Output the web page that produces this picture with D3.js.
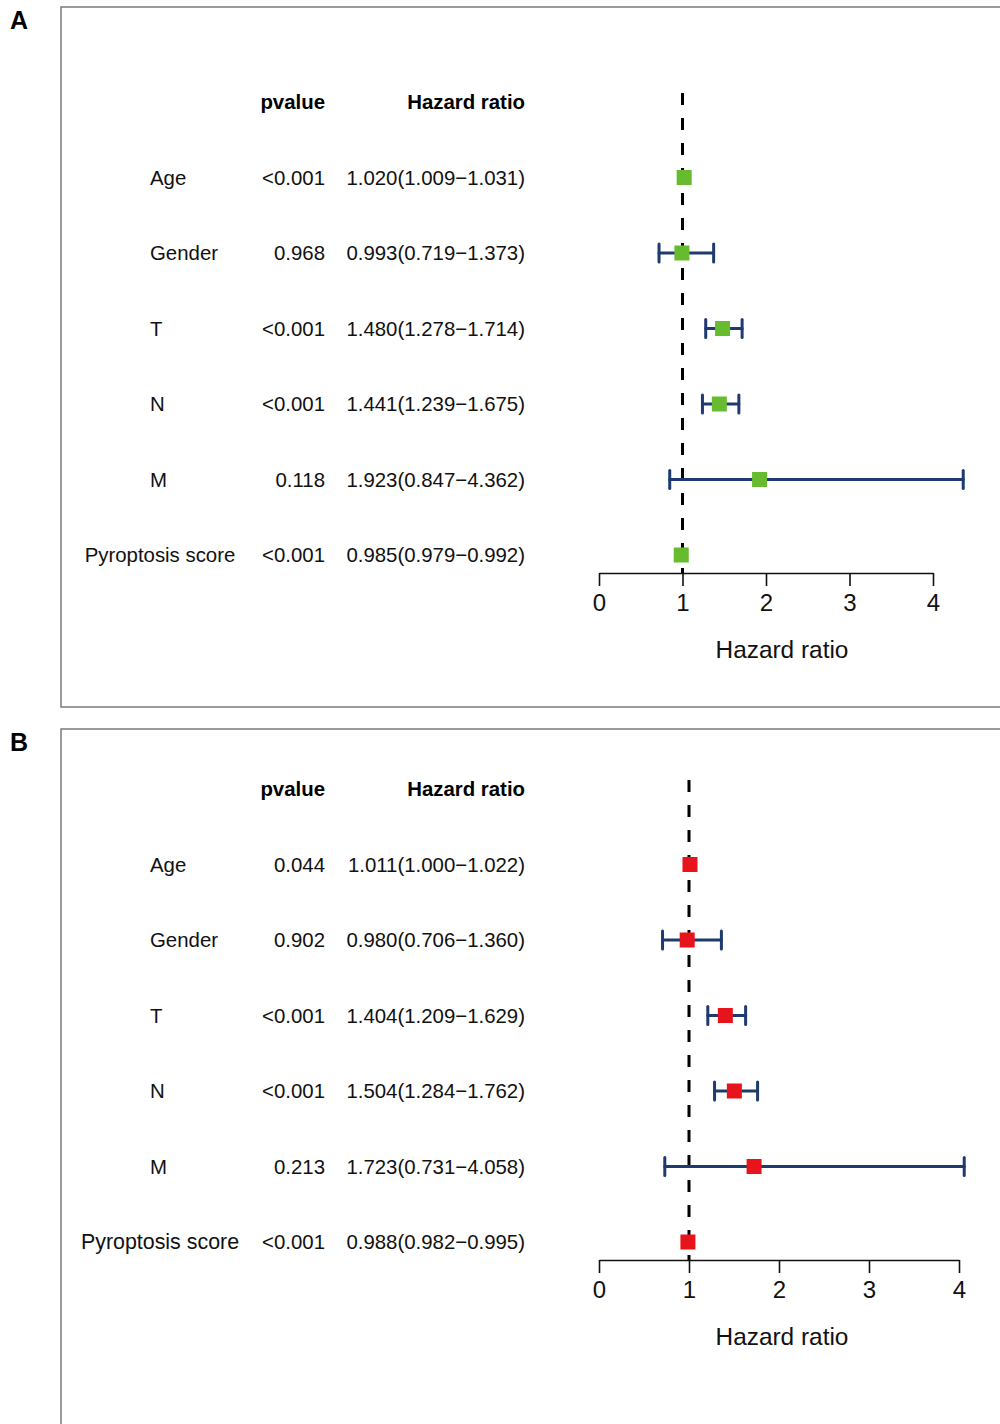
<!DOCTYPE html>
<html>
<head>
<meta charset="utf-8">
<script src="https://cdn.jsdelivr.net/npm/d3@7"></script>
<style>
  body { margin: 0; background: #fff; }
  svg { display: block; font-family: "Liberation Sans", Arial, sans-serif; }
</style>
</head>
<body>
<svg width="1000" height="1424"></svg>
<script>
// shared row names
const variables = ['Age', 'Gender', 'T', 'N', 'M', 'Pyroptosis score'];

// panel A (green)
const pvalA = ['<0.001', '0.968', '<0.001', '<0.001', '0.118', '<0.001'];
const hrA = [1.020, 0.993, 1.480, 1.441, 1.923, 0.985];
const lowA = [1.009, 0.719, 1.278, 1.239, 0.847, 0.979];
const highA = [1.031, 1.373, 1.714, 1.675, 4.362, 0.992];

// panel B (red)
const pvalB = ['0.044', '0.902', '<0.001', '<0.001', '0.213', '<0.001'];
const hrB = [1.011, 0.980, 1.404, 1.504, 1.723, 0.988];
const lowB = [1.000, 0.706, 1.209, 1.284, 0.731, 0.982];
const highB = [1.022, 1.360, 1.629, 1.762, 4.058, 0.995];

const xTicks = [0, 1, 2, 3, 4];

const svg = d3.select('svg');
const fmt = d3.format('.3f');

function drawPanel(opts) {
    // frame, cut off by the page edges like the reference
    svg.append('rect')
        .attr('x', 61).attr('y', opts.frameTop)
        .attr('width', 1000).attr('height', opts.frameH)
        .attr('fill', 'none').attr('stroke', '#7a7a7a').attr('stroke-width', 1.5);

    svg.append('text')
        .attr('x', 10).attr('y', opts.letterY)
        .attr('font-size', 25).attr('font-weight', 'bold')
        .text(opts.letter);

    const g = svg.append('g').attr('transform', `translate(0,${opts.top})`);

    const rows = variables.map((v, i) => ({
        id: v, p: opts.pval[i], hr: opts.hr[i], lo: opts.low[i], hi: opts.high[i]
    }));

    const y = d3.scalePoint()
        .domain(['header'].concat(variables))
        .range([102, 555]);
    const x = d3.scaleLinear().domain([0, 4]).range([599, opts.xEnd]);
    const axisY = 573;

    // headers
    g.append('text').attr('x', 325).attr('y', y('header')).attr('dy', '0.35em')
        .attr('text-anchor', 'end').attr('font-size', 20.4).attr('font-weight', 'bold')
        .text('pvalue');
    g.append('text').attr('x', 525).attr('y', y('header')).attr('dy', '0.35em')
        .attr('text-anchor', 'end').attr('font-size', 20.4).attr('font-weight', 'bold')
        .text('Hazard ratio');

    const txt = g.append('g').attr('font-size', 20.4).attr('fill', '#111');
    txt.selectAll('text.lab').data(rows).enter().append('text')
        .attr('class', 'lab')
        .attr('x', d => d.id.length > 8 ? 160 : 150)
        .attr('text-anchor', d => d.id.length > 8 ? 'middle' : 'start')
        .attr('font-size', d => d.id.length > 8 ? opts.longSize : 20.4)
        .attr('y', d => y(d.id)).attr('dy', '0.35em')
        .text(d => d.id);
    txt.selectAll('text.pv').data(rows).enter().append('text')
        .attr('class', 'pv')
        .attr('x', 325).attr('text-anchor', 'end')
        .attr('y', d => y(d.id)).attr('dy', '0.35em')
        .text(d => d.p);
    txt.selectAll('text.hr').data(rows).enter().append('text')
        .attr('class', 'hr')
        .attr('x', 525).attr('text-anchor', 'end')
        .attr('y', d => y(d.id)).attr('dy', '0.35em')
        .text(d => `${fmt(d.hr)}(${fmt(d.lo)}\u2212${fmt(d.hi)})`);

    // reference line at HR = 1
    g.append('line')
        .attr('x1', x(1)).attr('x2', x(1))
        .attr('y1', y('header') - 9).attr('y2', axisY)
        .attr('stroke', '#000').attr('stroke-width', 3)
        .attr('stroke-dasharray', '12 13');

    // confidence intervals
    const ci = g.append('g').attr('stroke', '#1f3a6e').attr('stroke-width', 3)
        .attr('stroke-linecap', 'round');
    rows.filter(d => x(d.hi) - x(d.lo) > 10).forEach(d => {
        const yy = y(d.id);
        ci.append('line').attr('x1', x(d.lo)).attr('x2', x(d.hi)).attr('y1', yy).attr('y2', yy);
        ci.append('line').attr('x1', x(d.lo)).attr('x2', x(d.lo)).attr('y1', yy - 9).attr('y2', yy + 9);
        ci.append('line').attr('x1', x(d.hi)).attr('x2', x(d.hi)).attr('y1', yy - 9).attr('y2', yy + 9);
    });

    // point estimates
    g.selectAll('rect.pt').data(rows).enter().append('rect')
        .attr('class', 'pt')
        .attr('x', d => x(d.hr) - 7.5).attr('y', d => y(d.id) - 7.5)
        .attr('width', 15).attr('height', 15)
        .attr('fill', opts.color);

    // x axis
    const ax = g.append('g')
        .attr('transform', `translate(0,${axisY})`)
        .call(d3.axisBottom(x).tickValues(xTicks).tickFormat(d3.format('d'))
            .tickSize(13).tickSizeOuter(0).tickPadding(8));
    ax.selectAll('path, line').attr('stroke', '#111').attr('stroke-width', 1.6);
    ax.selectAll('text').attr('font-size', 24).attr('fill', '#111')
        .attr('font-family', '"Liberation Sans", Arial, sans-serif');

    g.append('text')
        .attr('x', 782).attr('y', axisY + 76)
        .attr('dy', '0.35em').attr('text-anchor', 'middle')
        .attr('font-size', 24.4).attr('fill', '#111')
        .text('Hazard ratio');
}

drawPanel({ top: 0, frameTop: 7, frameH: 700, letter: 'A', letterY: 29,
            xEnd: 933, color: '#66bb2e', longSize: 20.4,
            pval: pvalA, hr: hrA, low: lowA, high: highA });
drawPanel({ top: 687, frameTop: 729, frameH: 800, letter: 'B', letterY: 751,
            xEnd: 959, color: '#e8141c', longSize: 21.4,
            pval: pvalB, hr: hrB, low: lowB, high: highB });
</script>
</body>
</html>
